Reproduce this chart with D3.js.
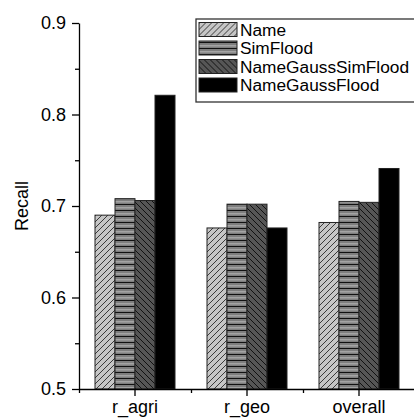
<!DOCTYPE html>
<html>
<head>
<meta charset="utf-8">
<script src="https://cdn.jsdelivr.net/npm/d3@7"></script>
<style>
  body { margin: 0; background: #fff; }
  svg { display: block; font-family: "Liberation Sans", Arial, sans-serif; }
</style>
</head>
<body>
<svg id="chart"></svg>
<script>
const categories = ["r_agri", "r_geo", "overall"];
const methods = ["Name", "SimFlood", "NameGaussSimFlood", "NameGaussFlood"];
const nameVals = [0.690, 0.676, 0.682];
const simFloodVals = [0.708, 0.702, 0.705];
const nameGaussSimFloodVals = [0.706, 0.702, 0.704];
const nameGaussFloodVals = [0.821, 0.676, 0.741];
const yTicks = [0.5, 0.6, 0.7, 0.8, 0.9];
const yMinorTicks = [0.55, 0.65, 0.75, 0.85];

const series = [nameVals, simFloodVals, nameGaussSimFloodVals, nameGaussFloodVals];
const fills = ["url(#pName)", "url(#pSim)", "url(#pNgsf)", "#000"];

const W = 414, H = 419;
const plotLeft = 79, plotRight = 415, plotTop = 23, plotBottom = 389;

const svg = d3.select("#chart").attr("width", W).attr("height", H);

// hatch patterns
const defs = svg.append("defs");
const pName = defs.append("pattern").attr("id", "pName")
  .attr("patternUnits", "userSpaceOnUse").attr("width", 6).attr("height", 6);
pName.append("rect").attr("width", 6).attr("height", 6).attr("fill", "#c6c6c6");
pName.append("path").attr("d", "M0,6L6,0M-1,1L1,-1M5,7L7,5")
  .attr("stroke", "#2a2a2a").attr("stroke-width", 0.9);

const pSim = defs.append("pattern").attr("id", "pSim")
  .attr("patternUnits", "userSpaceOnUse").attr("width", 6).attr("height", 6);
pSim.append("rect").attr("width", 6).attr("height", 6).attr("fill", "#7e7e7e");
pSim.append("rect").attr("y", 0).attr("width", 6).attr("height", 1).attr("fill", "#111");
pSim.append("rect").attr("y", 3).attr("width", 6).attr("height", 1.5).attr("fill", "#a4a4a4");

const pNgsf = defs.append("pattern").attr("id", "pNgsf")
  .attr("patternUnits", "userSpaceOnUse").attr("width", 6).attr("height", 6);
pNgsf.append("rect").attr("width", 6).attr("height", 6).attr("fill", "#565656");
pNgsf.append("path").attr("d", "M0,0L6,6M-1,5L1,7M5,-1L7,1")
  .attr("stroke", "#111").attr("stroke-width", 1);

const x0 = d3.scaleBand().domain(categories).range([plotLeft, plotRight])
  .paddingInner(2 / 7).paddingOuter(1 / 7);
const x1 = d3.scaleBand().domain(methods).range([0, x0.bandwidth()]);
const xMinor = d3.scaleLinear().domain([0, 3]).range([plotLeft, plotRight]);
const y = d3.scaleLinear().domain([0.5, 0.9]).range([plotBottom, plotTop]);

// bars
const groups = svg.selectAll(".grp")
  .data(categories)
  .enter().append("g")
  .attr("class", "grp")
  .attr("transform", d => `translate(${x0(d)},0)`);

groups.selectAll("rect")
  .data((c, ci) => methods.map((m, mi) => ({ m, mi, v: series[mi][ci] })))
  .enter().append("rect")
  .attr("x", d => x1(d.m))
  .attr("y", d => y(d.v))
  .attr("width", x1.bandwidth())
  .attr("height", d => y(0.5) - y(d.v))
  .attr("fill", d => fills[d.mi])
  .attr("stroke", "#222")
  .attr("stroke-width", 1);

// axes
svg.append("g")
  .attr("transform", `translate(${plotLeft},0)`)
  .call(d3.axisLeft(y).tickValues(yTicks).tickFormat(d3.format(".1f"))
    .tickSize(7).tickSizeOuter(0).tickPadding(6));
svg.append("g")
  .attr("transform", `translate(${plotLeft},0)`)
  .call(d3.axisLeft(y).tickValues(yMinorTicks).tickFormat("").tickSize(4).tickSizeOuter(0))
  .call(g => g.select(".domain").remove());

svg.append("g")
  .attr("transform", `translate(0,${plotBottom})`)
  .call(d3.axisBottom(x0).tickSize(7).tickSizeOuter(0).tickPadding(4));
svg.append("g")
  .attr("transform", `translate(0,${plotBottom})`)
  .call(d3.axisBottom(xMinor).ticks(3).tickFormat("").tickSize(4).tickSizeOuter(0))
  .call(g => g.select(".domain").remove());

svg.selectAll(".tick text").attr("font-size", 18).attr("font-family", "Liberation Sans, Arial, sans-serif").attr("fill", "#000");
svg.selectAll(".domain, .tick line").attr("stroke", "#000").attr("stroke-width", 1.3);

svg.append("text")
  .attr("transform", `translate(28,${(plotTop + plotBottom) / 2}) rotate(-90)`)
  .attr("text-anchor", "middle")
  .attr("font-size", 18)
  .text("Recall");

// legend
const legend = svg.append("g");
legend.append("rect")
  .attr("x", 196).attr("y", 19).attr("width", 240).attr("height", 83)
  .attr("fill", "#fff").attr("stroke", "#333").attr("stroke-width", 1.3);

const items = legend.selectAll(".item")
  .data(methods)
  .enter().append("g")
  .attr("transform", (d, i) => `translate(199,${29.5 + i * 18.5})`);

items.append("rect")
  .attr("x", 0).attr("y", -7).attr("width", 38).attr("height", 14)
  .attr("fill", (d, i) => fills[i])
  .attr("stroke", "#222").attr("stroke-width", 1);

items.append("text")
  .attr("x", 41).attr("dy", "0.35em")
  .attr("font-size", 17.3)
  .text(d => d);
</script>
</body>
</html>
